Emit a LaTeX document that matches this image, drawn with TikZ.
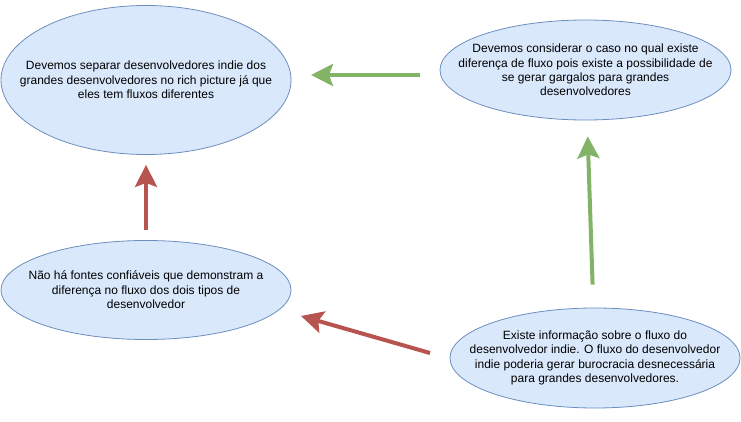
\documentclass[tikz,border=0pt]{standalone}
\usepackage{fontspec}
\setmainfont{Liberation Sans}
\usepackage{tikz}
\usetikzlibrary{shapes.geometric,arrows.meta}
\definecolor{ideafill}{HTML}{DAE8FC}
\definecolor{idealine}{HTML}{6C8EBF}
\definecolor{greenarrow}{HTML}{82B366}
\definecolor{redarrow}{HTML}{B85450}

\begin{document}
\begin{tikzpicture}[x=1pt, y=-1pt,
    idea/.style={draw=idealine, fill=ideafill, ellipse, inner xsep=-60pt, inner ysep=-30pt, line width=0.8pt,
        minimum width=290pt, align=center, font=\fontsize{12pt}{14.4pt}\selectfont},
    bigarrow/.style={line width=4pt, -{Stealth[length=22pt, width=22pt, inset=4pt]}}]
    \useasboundingbox (0,0) rectangle (741,422);

    % Ideas
    \node[idea, minimum height=149pt] (separate) at (146,80)
        {Devemos separar desenvolvedores indie dos\\grandes desenvolvedores no rich picture já que\\eles tem fluxos diferentes};
    \node[idea, minimum height=100pt, minimum width=291pt] (consider) at (585.5,70)
        {Devemos considerar o caso no qual existe\\diferença de fluxo pois existe a possibilidade de\\se gerar gargalos para grandes\\desenvolvedores};
    \node[idea, minimum height=99pt] (nosources) at (146,290)
        {Não há fontes confiáveis que demonstram a\\diferença no fluxo dos dois tipos de\\desenvolvedor};
    \node[idea, minimum height=100pt] (info) at (595,358)
        {Existe informação sobre o fluxo do\\desenvolvedor indie. O fluxo do desenvolvedor\\indie poderia gerar burocracia desnecessária\\para grandes desenvolvedores.};

    % Arrow ends
    \coordinate (gtail) at (420,75);
    \coordinate (gtip) at (311,75);
    \coordinate (rtail) at (430,353);
    \coordinate (rtip) at (301,316);

    % Arrows
    \draw[bigarrow, greenarrow] (gtail) -- (gtip);
    \draw[bigarrow, greenarrow, shorten <=23pt, shorten >=16pt] (info) -- (consider);
    \draw[bigarrow, redarrow, shorten <=10pt, shorten >=10pt] (nosources) -- (separate);
    \draw[bigarrow, redarrow] (rtail) -- (rtip);
\end{tikzpicture}
\end{document}
